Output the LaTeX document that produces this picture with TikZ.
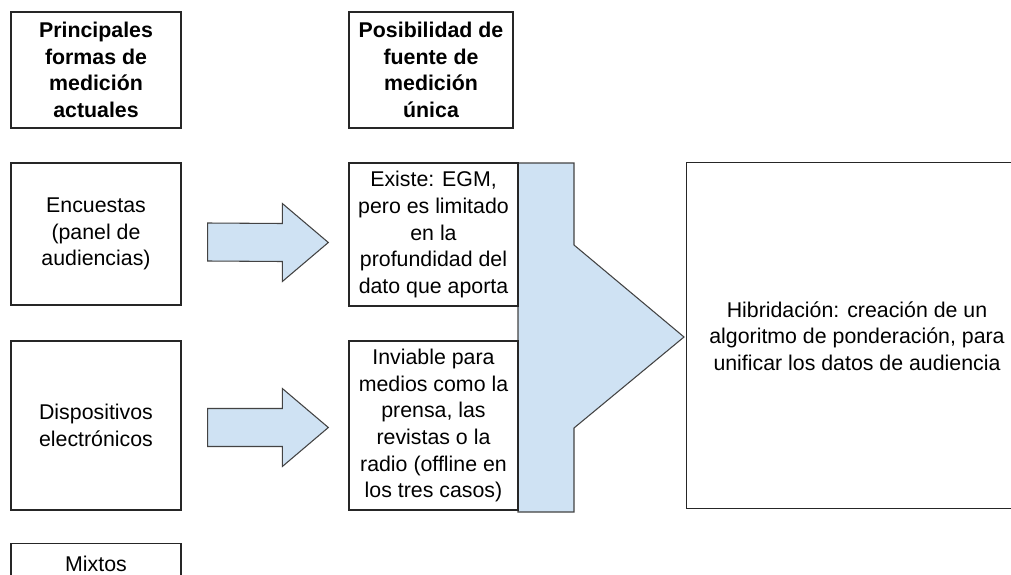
\documentclass[tikz,border=0pt]{standalone}
\usepackage{fontspec}
\setmainfont{Liberation Sans}
\usepackage{tikz}
\usetikzlibrary{calc}
\definecolor{arrowblue}{HTML}{CFE2F3}
\definecolor{arrowline}{HTML}{434343}
\tikzset{box/.style={draw=black!85, line width=1pt, fill=white, align=center, inner sep=2pt,
    font=\fontsize{16}{20}\selectfont}}
\tikzset{headbox/.style={box, font=\bfseries\fontsize{16}{20}\selectfont}}
\tikzset{fat arrow/.style={draw=arrowline, fill=arrowblue, line width=0.8pt, line join=miter}}
\newcommand{\blockarrow}[2]{%
    \draw[fat arrow] ($(#1)+(0,-19)$) -- ($(#2)+(-46,-19)$) -- ($(#2)+(-46,-39)$)
        -- (#2) -- ($(#2)+(-46,39)$) -- ($(#2)+(-46,19)$) -- ($(#1)+(0,19)$) -- cycle;}

\begin{document}
\begin{tikzpicture}[x=0.75pt, y=-0.75pt]
    \useasboundingbox (0,0) rectangle (1011,575);
    \clip (0,0) rectangle (1011,575);

    % headers
    \node[headbox, minimum width=127.5pt, minimum height=87pt] (formas) at (96,70)
        {Principales\\formas de\\medición\\actuales};
    \node[headbox, minimum width=123pt, minimum height=87pt] (fuente) at (431,70)
        {Posibilidad de\\fuente de\\medición\\única};

    % big arrow behind the middle column
    \coordinate (bigtip) at (684,337);
    \draw[fat arrow] (518,163) -- (574,163) -- (574,245) -- (bigtip)
        -- (574,428) -- (574,512) -- (518,512) -- cycle;

    % left column
    \node[box, minimum width=127.5pt, minimum height=106.5pt] (encuestas) at (96,234)
        {Encuestas\\(panel de\\audiencias)};
    \node[box, minimum width=127.5pt, minimum height=126.75pt] (dispositivos) at (96,425.5)
        {Dispositivos\\electrónicos};
    \node[box, minimum width=127.5pt, minimum height=30pt, anchor=north] (mixtos) at (96,543)
        {Mixtos};

    % middle column
    \node[box, minimum width=126.75pt, minimum height=107.25pt] (existe) at (433.5,234.5)
        {Existe: EGM,\\pero es limitado\\en la\\profundidad del\\dato que aporta};
    \node[box, minimum width=126.75pt, minimum height=126.75pt] (inviable) at (433.5,425.5)
        {Inviable para\\medios como la\\prensa, las\\revistas o la\\radio (offline en\\los tres casos)};

    % right column, runs past the right edge
    \node[box, draw=none, fill=none, minimum width=255pt, minimum height=259.5pt] (hibridacion) at (857,336)
        {Hibridación: creación de un\\algoritmo de ponderación, para\\unificar los datos de audiencia};
    \draw[draw=black!85, line width=1pt] (hibridacion.north west) rectangle ++(400,346);

    % small arrows
    \coordinate (a1s) at ($(encuestas.east)+(26,8)$);
    \coordinate (a1e) at ($(existe.west)+(-20,8)$);
    \coordinate (a2s) at ($(dispositivos.east)+(26,2)$);
    \coordinate (a2e) at ($(inviable.west)+(-20,2)$);
    \blockarrow{a1s}{a1e}
    \blockarrow{a2s}{a2e}
\end{tikzpicture}
\end{document}
